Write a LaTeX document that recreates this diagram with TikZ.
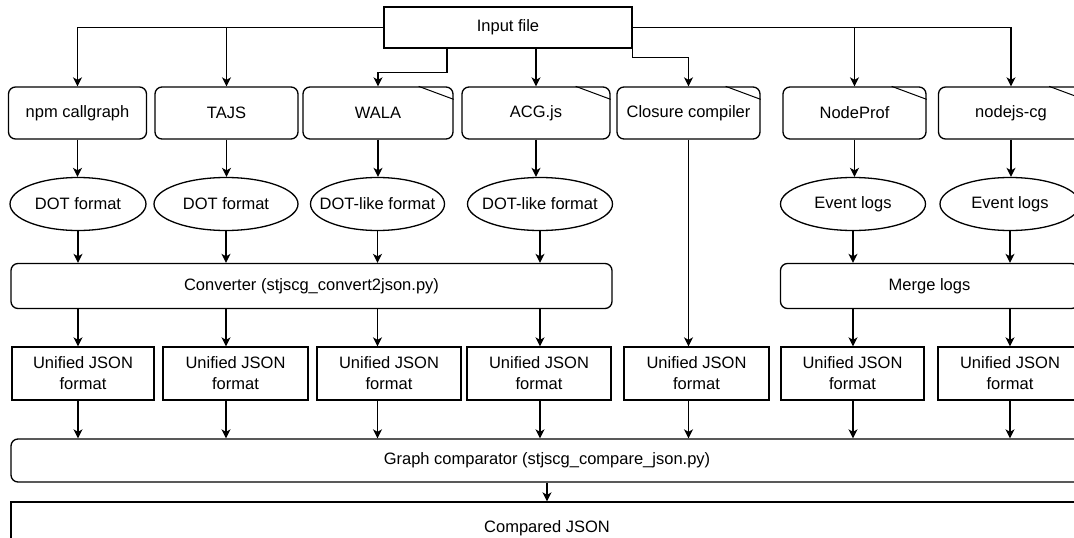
\documentclass[tikz,border=0pt]{standalone}
\usepackage{fontspec}
\setmainfont{Liberation Sans}
\usetikzlibrary{arrows.meta,shapes.geometric}

\begin{document}
\begin{tikzpicture}[x=1pt, y=-1pt, line width=1.3pt, font=\fontsize{16.5}{21}\selectfont,
  tool/.style={draw, rounded corners=7pt, minimum width=143pt, minimum height=52pt, inner sep=0pt},
  fmt/.style={draw, ellipse, minimum width=145pt, minimum height=53pt, inner sep=0pt,
    execute at begin node=\hbox to 0pt\bgroup\hss, execute at end node=\hss\egroup},
  proc/.style={draw, rounded corners=7pt, minimum height=45pt, inner sep=0pt},
  json/.style={draw, minimum width=144pt, minimum height=53pt, inner sep=0pt, align=center},
  arr/.style={-{Stealth[length=9pt, width=9pt, inset=2.5pt]}}]

\useasboundingbox (0,0) rectangle (1074,538);
\clip (0,0) rectangle (1074,538);

% input
\node[draw, minimum width=248pt, minimum height=41pt, inner sep=0pt] (in) at (508,27.5) {Input file};

% tools
\node[tool, minimum width=138pt] (npm) at (77.5,113) {npm callgraph};
\node[tool] (tajs) at (226.5,113) {TAJS};
\node[tool, minimum width=150pt] (wala) at (378,113) {WALA};
\node[tool, minimum width=148pt] (acg) at (536,113) {ACG.js};
\node[tool] (cc) at (688.5,113) {Closure compiler};
\node[tool] (nprof) at (854.5,113) {NodeProf};
\node[tool, minimum width=145pt] (ncg) at (1011,113) {nodejs-cg};

\foreach \n in {wala, acg, cc, nprof, ncg}
  \draw[line width=1pt] ([xshift=-35pt]\n.north east) -- ([yshift=-13pt]\n.north east);

% raw output
\node[fmt, minimum width=136pt] (e1) at (78,204) {DOT format};
\node[fmt, minimum width=144pt] (e2) at (226,204) {DOT format};
\node[fmt, minimum width=134pt] (e3) at (377.5,204) {DOT-like format};
\node[fmt] (e4) at (540,204) {DOT-like format};
\node[fmt] (e5) at (853,204) {Event logs};
\node[fmt, minimum width=140pt] (e6) at (1010,204) {Event logs};

\node[proc, minimum width=601pt] (conv) at (311.5,286) {Converter (stjscg\_convert2json.py)};
\node[proc, minimum width=298pt] (merge) at (929.5,286) {Merge logs};

% unified json
\node[json, minimum width=142pt] (j1) at (83,373.5) {Unified JSON\\format};
\node[json, minimum width=145pt] (j2) at (235.5,373.5) {Unified JSON\\format};
\node[json] (j3) at (389,373.5) {Unified JSON\\format};
\node[json] (j4) at (539,373.5) {Unified JSON\\format};
\node[json, minimum width=145pt] (j5) at (696.5,373.5) {Unified JSON\\format};
\node[json, minimum width=143pt] (j6) at (852.5,373.5) {Unified JSON\\format};
\node[json] (j7) at (1010,373.5) {Unified JSON\\format};

\node[proc, minimum width=1072pt, minimum height=43pt] (cmp) at (547,460.5) {Graph comparator (stjscg\_compare\_json.py)};
\node[draw, minimum width=1072pt, minimum height=52pt, inner sep=0pt] (res) at (547,528) {Compared JSON};

% input to tools
\draw[arr] (in.west) -| (npm);
\draw[arr] (in.west) -| (tajs);
\draw[arr] ([xshift=-61pt]in.south) |- ([yshift=14pt]wala.north) -- (wala.north);
\draw[arr] (in.south -| acg) -- (acg);
\draw[arr] (in.south east) |- ([yshift=29pt]cc.north) -- (cc.north);
\draw[arr] (in.east) -| (nprof);
\draw[arr] (in.east) -| (ncg);

% tools to formats
\foreach \a/\b in {npm/e1, tajs/e2, wala/e3, acg/e4, nprof/e5, ncg/e6}
  \draw[arr] (\a.south) -- (\a.south |- \b.north);

\foreach \a in {e1, e2, e3, e4}
  \draw[arr] (\a.south) -- (\a.south |- conv.north);
\foreach \a in {e5, e6}
  \draw[arr] (\a.south) -- (\a.south |- merge.north);

\draw[arr] (e1 |- conv.south) -- (e1 |- j1.north);
\draw[arr] (e2 |- conv.south) -- (e2 |- j2.north);
\draw[arr] (e3 |- conv.south) -- (e3 |- j3.north);
\draw[arr] (e4 |- conv.south) -- (e4 |- j4.north);
\draw[arr] (cc.south) -- (cc.south |- j5.north);
\draw[arr] (e5 |- merge.south) -- (e5 |- j6.north);
\draw[arr] (e6 |- merge.south) -- (e6 |- j7.north);

% to comparator
\foreach \a/\b in {e1/j1, e2/j2, e3/j3, e4/j4, cc/j5, e5/j6, e6/j7}
  \draw[arr] (\a |- \b.south) -- (\a |- cmp.north);

\draw[arr] (cmp.south) -- (res.north);
\end{tikzpicture}
\end{document}
